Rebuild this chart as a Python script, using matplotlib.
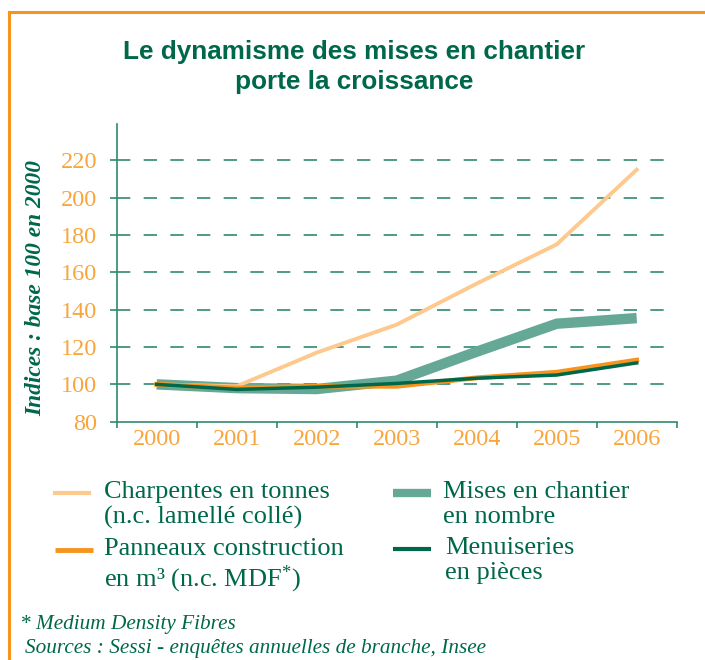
import matplotlib
matplotlib.use("Agg")
import matplotlib.pyplot as plt
from matplotlib.lines import Line2D

plt.rcParams["mathtext.fontset"] = "custom"
plt.rcParams["mathtext.rm"] = "Liberation Serif"
plt.rcParams["mathtext.it"] = "Liberation Serif:italic"

years = ["2000", "2001", "2002", "2003", "2004", "2005", "2006"]
charpentes = [100, 99, 117, 132, 154, 175, 215]
mises = [100, 98, 97.5, 102, 117.5, 132.5, 135.5]
panneaux = [100, 98, 99, 99, 103.5, 106.5, 113]
menuiseries = [100, 97.3, 98.5, 100.5, 103.3, 105, 111.5]
yticks = [80, 100, 120, 140, 160, 180, 200, 220]

GREEN = "#00684a"
TEAL = "#66a896"
ORANGE = "#f7941d"
LORANGE = "#fdc98c"
TICKOR = "#f9a53c"
AXC = "#2f8a6e"

fig = plt.figure(figsize=(7.05, 6.6), dpi=100)

# orange frame (left and top)
fig.add_artist(Line2D([9/705, 9/705], [0, 1 - 12/660], color=ORANGE, lw=2.2, transform=fig.transFigure))
fig.add_artist(Line2D([9/705, 1], [1 - 12/660, 1 - 12/660], color=ORANGE, lw=2.2, transform=fig.transFigure))

fig.text(0.5 + 2/705, 1 - 67/660, "Le dynamisme des mises en chantier\nporte la croissance",
         ha="center", va="center", color=GREEN, fontsize=18.8, fontweight="bold",
         family="Liberation Sans", linespacing=1.3)

ax = fig.add_axes([116.7/705, 1 - 421.7/660, 560/705, (421.7 - 124)/660])
x = range(len(years))
for yv in yticks[1:]:
    ax.axhline(yv, color=AXC, lw=1.2, dashes=(8, 8), zorder=1)
ax.plot(x, mises, color=TEAL, lw=7.5, solid_capstyle="butt", zorder=2)
ax.plot(x, charpentes, color=LORANGE, lw=2.8, zorder=3)
ax.plot(x, panneaux, color=ORANGE, lw=3.5, zorder=4)
ax.plot(x, menuiseries, color=GREEN, lw=2.5, zorder=5)

ax.set_xlim(-0.5, 6.5)
ax.set_ylim(80, 239.5)
ax.set_yticks(yticks)
ax.set_yticklabels([str(v) for v in yticks])
ax.set_xticks([i + 0.5 for i in range(-1, 7)], minor=False)
ax.set_xticklabels([])
ax.set_xticks(list(x), minor=True)
ax.set_xticklabels(years, minor=True)
ax.tick_params(axis="x", which="major", direction="out", length=4, color=AXC, width=1.2)
ax.tick_params(axis="x", which="minor", length=0, pad=5, labelsize=17.5, labelcolor=TICKOR)
ax.tick_params(axis="y", direction="out", length=5, color=AXC, width=1.2, labelsize=17.5,
               labelcolor=TICKOR, pad=9)
for lab in ax.get_xticklabels(minor=True) + ax.get_yticklabels():
    lab.set_family("Liberation Serif")
for s in ["top", "right"]:
    ax.spines[s].set_visible(False)
for s in ["left", "bottom"]:
    ax.spines[s].set_color(AXC)
    ax.spines[s].set_linewidth(1.2)

fig.text(36/705, 1 - 288/660, "Indices : base 100 en 2000", rotation=90, ha="center", va="center",
         color=GREEN, fontsize=16.8, fontweight="bold", fontstyle="italic", family="Liberation Serif")

# legend
def leg(x0, x1, yl, color, lw, tx, lines):
    fig.add_artist(Line2D([x0/705, x1/705], [1 - yl/660] * 2, color=color, lw=lw,
                          solid_capstyle="butt", transform=fig.transFigure))
    fig.text(tx/705, 1 - (yl - 12)/660, lines, ha="left", va="top", color=GREEN,
             fontsize=19, family="Liberation Serif", linespacing=1.15)

leg(53, 91, 493, LORANGE, 3, 104, "Charpentes en tonnes\n(n.c. lamellé collé)")
leg(393, 431, 493, TEAL, 6, 443, "Mises en chantier\nen nombre")
leg(55, 93, 550, ORANGE, 3.5, 104, "Panneaux construction\nen m³ (n.c. MDF$^{*}$)")
leg(393, 431, 549, GREEN, 3, 445, "Menuiseries\nen pièces")

fig.text(20/705, 1 - 624/660, "* Medium Density Fibres", ha="left", va="center", color=GREEN,
         fontsize=15.3, fontstyle="italic", family="Liberation Serif")
fig.text(25/705, 1 - 648/660, "Sources : Sessi - enquêtes annuelles de branche, Insee", ha="left",
         va="center", color=GREEN, fontsize=15.3, fontstyle="italic", family="Liberation Serif")

fig.savefig("out.png", dpi=100)
